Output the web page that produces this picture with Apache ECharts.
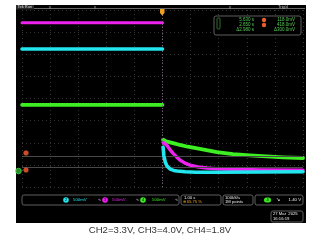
<!DOCTYPE html>
<html><head><meta charset="utf-8">
<script src="https://cdn.jsdelivr.net/npm/echarts@6/dist/echarts.min.js"></script>
<style>
html,body{margin:0;padding:0;background:#fff;}
#scr{position:absolute;left:16px;top:5px;width:290px;height:218px;background:#000;}
#c{position:absolute;left:0;top:0;width:320px;height:240px;}
</style>
</head><body><div id="scr"></div><div id="c"></div>
<script>
// time in s relative to trigger (1.00 s/div); amplitude in screen divisions
const timePre = [-5, 0];
const ch3Pre = [3.42, 3.42];
const ch2Pre = [2.24, 2.24];
const ch4Pre = [-0.29, -0.29];

const ch4PostT = [0.02, 0.1, 0.27, 0.45, 0.62, 0.9, 1.33, 1.94, 2.51, 3.11, 3.7, 4.29, 5.0];
const ch4PostV = [-1.86, -1.92, -1.98, -2.04, -2.1, -2.18, -2.28, -2.42, -2.51, -2.57, -2.62, -2.66, -2.69];
const ch3PostT = [0.02, 0.16, 0.27, 0.37, 0.5, 0.62, 0.8, 0.98, 1.25, 1.58, 2.0, 2.51, 3.5, 5.0];
const ch3PostV = [-1.98, -2.12, -2.32, -2.47, -2.64, -2.78, -2.92, -3.01, -3.09, -3.14, -3.18, -3.2, -3.23, -3.24];
const ch2PostT = [0.02, 0.05, 0.1, 0.16, 0.27, 0.4, 0.52, 0.8, 1.2, 2.0, 3.5, 5.0];
const ch2PostV = [-2.2, -2.6, -2.88, -3.05, -3.19, -3.25, -3.28, -3.31, -3.33, -3.33, -3.32, -3.31];
const cursorLevels = [-2.6, -3.1];

const cursorTimes = ['5.630 s', '2.650 s', 'Δ2.980 s'];
const cursorVolts = ['118.0mV', '418.0mV', 'Δ300.0mV'];
const chScales = ['500mV', '500mV', '500mV'];
const caption = 'CH2=3.3V, CH3=4.0V, CH4=1.8V';

const MAG = '#ee22ee', CYA = '#22e6ee', GRN = '#3dee22';
const pair = (t, v) => t.map((x, i) => [x, v[i]]);
const F = 'Liberation Sans';

const chart = echarts.init(document.getElementById('c'), null, {renderer: 'canvas'});

function txt(text, x, y, fill, size, align, extra) {
  return Object.assign({type: 'text', z: 50, style: {text: text, x: x, y: y, fill: fill,
    font: (size || 4.5) + 'px "' + F + '"', align: align || 'left', verticalAlign: 'middle'}}, extra || {});
}
function box(x, y, w, h, stroke) {
  return {type: 'rect', z: 40, shape: {x: x, y: y, width: w, height: h, r: 2},
    style: {fill: '#000', stroke: stroke || '#5e5e5e', lineWidth: 1}};
}
function badge(cx, cy, color, label) {
  return [
    {type: 'circle', z: 45, shape: {cx: cx, cy: cy, r: 2.8}, style: {fill: color}},
    txt(label, cx, cy + 0.2, '#000', 4, 'center', {z: 46})
  ];
}

const gfx = [
  // top record bar
  {type: 'rect', z: 39, shape: {x: 16, y: 5, width: 18, height: 4.5}, style: {fill: '#2a2a2a'}},
  txt('Tek Run', 17.5, 7.3, '#ddd', 4),
  {type: 'line', z: 40, shape: {x1: 34, y1: 8.5, x2: 305, y2: 8.5}, style: {stroke: '#6a6a6a', lineWidth: 1}},
  {type: 'line', z: 40, shape: {x1: 50, y1: 6, x2: 50, y2: 9}, style: {stroke: '#888', lineWidth: 1}},
  {type: 'line', z: 40, shape: {x1: 95, y1: 6, x2: 95, y2: 9}, style: {stroke: '#888', lineWidth: 1}},
  {type: 'line', z: 40, shape: {x1: 230, y1: 6, x2: 230, y2: 9}, style: {stroke: '#888', lineWidth: 1}},
  txt("Trig'd", 278, 7.3, '#ccc', 4),
  {type: 'polygon', z: 48, shape: {points: [[160, 9], [164.5, 9], [164.5, 13], [162.2, 15.5], [160, 13]]}, style: {fill: '#f0a020'}},
  // cursor readout
  box(214, 16, 87, 19),
  {type: 'rect', z: 41, shape: {x: 217, y: 18, width: 3, height: 11, r: 1}, style: {fill: 'none', stroke: '#3a8a3a', lineWidth: 0.8}},
  txt(cursorTimes[0], 254, 20, '#55cc55', 4.5, 'right'),
  txt(cursorTimes[1], 254, 25, '#55cc55', 4.5, 'right'),
  txt(cursorTimes[2], 254, 30, '#55cc55', 4.5, 'right'),
  {type: 'circle', z: 45, shape: {cx: 264, cy: 20, r: 2.2}, style: {fill: '#e8602c'}},
  {type: 'circle', z: 45, shape: {cx: 264, cy: 25, r: 2.2}, style: {fill: '#e8602c'}},
  txt(cursorVolts[0], 295, 20, '#55cc55', 4.5, 'right'),
  txt(cursorVolts[1], 295, 25, '#55cc55', 4.5, 'right'),
  txt(cursorVolts[2], 295, 30, '#55cc55', 4.5, 'right'),
  // left markers
  {type: 'circle', z: 45, shape: {cx: 26, cy: 153, r: 2.3}, style: {fill: '#c8482a', stroke: '#e8602c', lineWidth: 0.6}},
  {type: 'circle', z: 45, shape: {cx: 26, cy: 170, r: 2.3}, style: {fill: '#c8482a', stroke: '#e8602c', lineWidth: 0.6}},
  {type: 'circle', z: 45, shape: {cx: 18.5, cy: 171, r: 2.8}, style: {fill: '#2a8a2a', stroke: '#44dd44', lineWidth: 0.8}},
  // bottom status bar
  box(22, 195, 157, 10),
  ...badge(66, 200, CYA, '2'),
  txt(chScales[0], 73, 200, CYA, 4.3),
  txt('∿', 98, 200, '#ddd', 4.3),
  ...badge(105, 200, MAG, '3'),
  txt(chScales[1], 112, 200, MAG, 4.3),
  txt('∿', 136, 200, '#ddd', 4.3),
  ...badge(143, 200, GRN, '4'),
  txt(chScales[2], 152, 200, GRN, 4.3),
  txt('∿', 175, 200, '#ddd', 4.3),
  box(181, 195, 40, 10),
  txt('1.00 s', 184, 197.8, '#eee', 4.2),
  txt('⊕ 65.75 %', 182.5, 202.2, '#e8a020', 4.2),
  box(223, 195, 30, 10),
  txt('100kS/s', 225, 197.8, '#eee', 4.2),
  txt('1M points', 225, 202.2, '#eee', 4.2),
  box(255, 195, 48, 10),
  {type: 'rect', z: 45, shape: {x: 264, y: 197.5, width: 7, height: 5, r: 2.5}, style: {fill: GRN}},
  txt('4', 267.5, 200.2, '#000', 4, 'center', {z: 46}),
  txt('↘', 276, 200, '#eee', 4.5),
  txt('1.40 V', 301, 200, '#eee', 4.3, 'right'),
  box(271, 211, 32, 11),
  txt('27 Mar  2025', 273, 214, '#eee', 4.2),
  txt('16:16:19', 273, 218.6, '#eee', 4.2),
  // caption
  txt(caption, 160, 230, '#333', 9.6, 'center')
];

const lineSeries = (name, data, color, width, z) => ({
  name: name, type: 'line', data: data, showSymbol: false, symbol: 'none', z: z,
  lineStyle: {color: color, width: width, join: 'round', cap: 'round'}, animation: false, silent: true
});

chart.setOption({
  backgroundColor: 'transparent',
  animation: false,
  grid: {left: 22, top: 10, width: 281, height: 177},
  xAxis: {type: 'value', min: -5, max: 5, interval: 1,
    axisLine: {show: false}, axisTick: {show: false}, axisLabel: {show: false},
    splitLine: {show: true, lineStyle: {color: '#333', width: 1, type: [1, 3]}}},
  yAxis: {type: 'value', min: -4, max: 4, interval: 1,
    axisLine: {show: false}, axisTick: {show: false}, axisLabel: {show: false},
    splitLine: {show: true, lineStyle: {color: '#333', width: 1, type: [1, 3]}}},
  series: [
    {type: 'line', data: [], z: 1, silent: true,
      markLine: {silent: true, symbol: 'none', label: {show: false}, animation: false,
        lineStyle: {color: '#484848', width: 1, type: 'solid'},
        data: cursorLevels.map(v => ({yAxis: v}))}},
    {type: 'line', data: [], z: 1, silent: true,
      markLine: {silent: true, symbol: 'none', label: {show: false}, animation: false,
        lineStyle: {color: '#7a5a80', width: 1, type: [1, 2]},
        data: [{xAxis: 0}]}},
    lineSeries('CH4', pair(timePre, ch4Pre), GRN, 3.6, 3),
    lineSeries('CH4b', pair(ch4PostT, ch4PostV), GRN, 3.8, 3),
    lineSeries('CH3', pair(timePre, ch3Pre), MAG, 3.0, 4),
    lineSeries('CH3b', pair(ch3PostT, ch3PostV), MAG, 3.4, 4),
    lineSeries('CH2', pair(timePre, ch2Pre), CYA, 3.6, 5),
    lineSeries('CH2b', pair(ch2PostT, ch2PostV), CYA, 3.6, 5)
  ],
  graphic: gfx
});
</script>
</body></html>
